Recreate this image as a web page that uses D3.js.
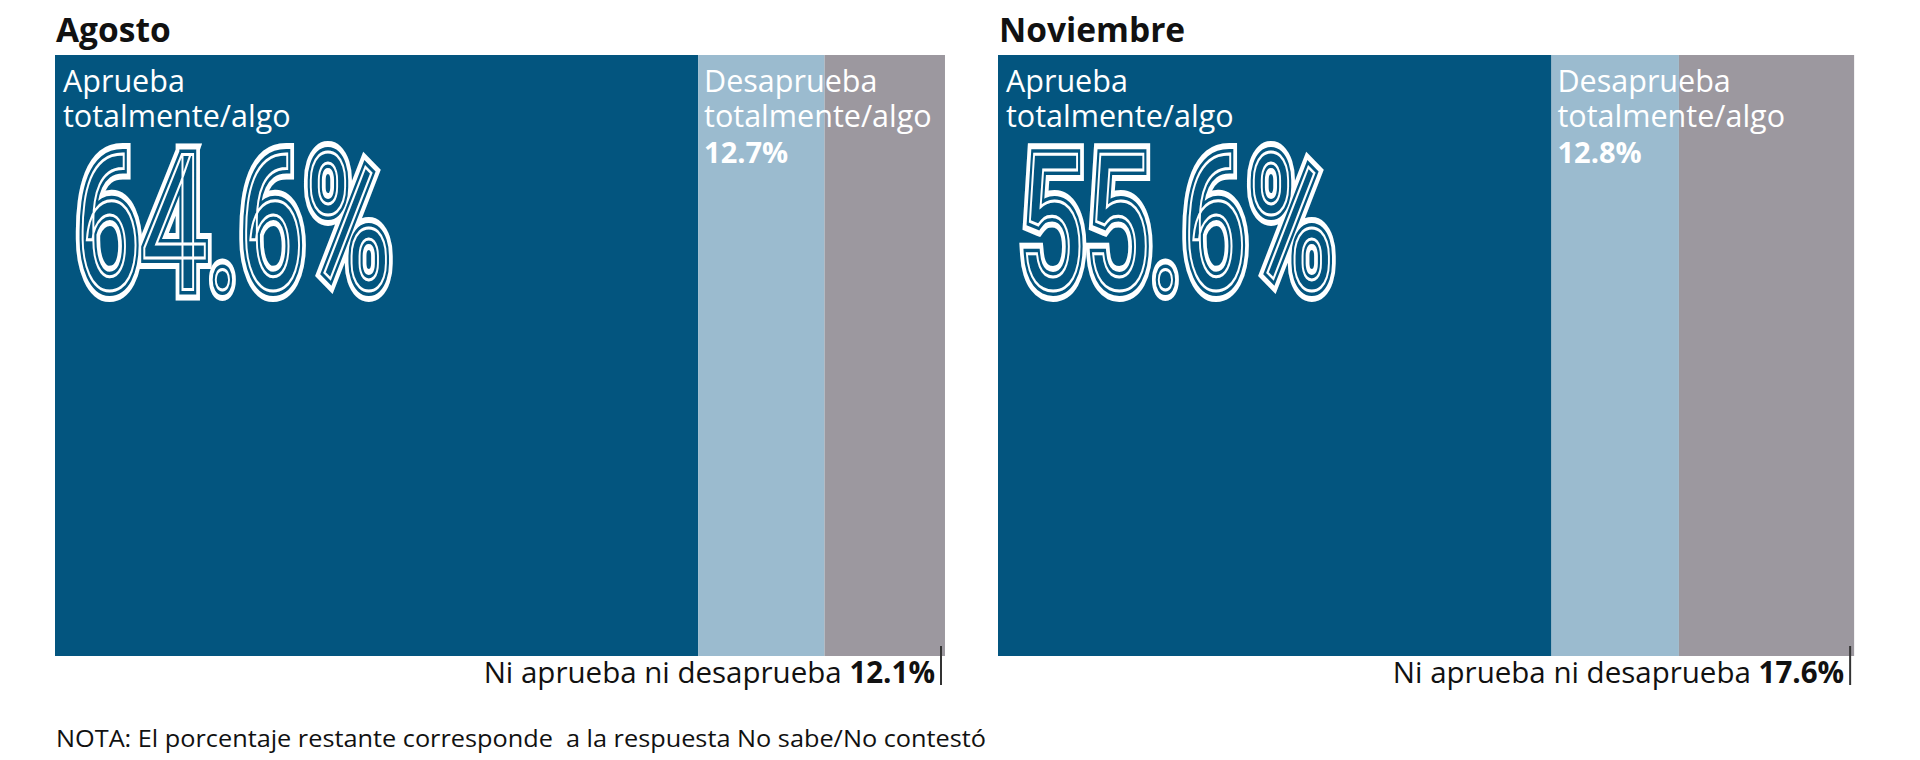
<!DOCTYPE html>
<html>
<head>
<meta charset="utf-8">
<script src="https://cdn.jsdelivr.net/npm/d3@7"></script>
<style>
  html, body { margin: 0; padding: 0; background: #ffffff; }
  svg { display: block; }
</style>
</head>
<body>
<script>
// ---- Data ----
const months = ["Agosto", "Noviembre"];
const aprueba = [64.6, 55.6];
const desaprueba = [12.7, 12.8];
const niNi = [12.1, 17.6];
const categoryLines = [["Aprueba", "totalmente/algo"], ["Desaprueba", "totalmente/algo"]];
const niLabel = "Ni aprueba ni desaprueba ";
const note = "NOTA: El porcentaje restante corresponde\u00A0 a la respuesta No sabe/No contestó";

// ---- Layout ----
const W = 1920, H = 760;
const colors = ["#03557f", "#9bbbcf", "#9c989f"];
const fontBase = "'Open Sans', 'Noto Sans', sans-serif";
const barTop = 55, barBottom = 656;

const svg = d3.select("body").append("svg").attr("width", W).attr("height", H);
const defs = svg.append("defs");

const panel = d3.scaleBand().domain(months).range([55, 55 + 943 * 2]).paddingInner(0);
const x = d3.scaleLinear().domain([0, 100]).range([0, 995.5]);
const fmt = v => d3.format(".1f")(v) + "%";

months.forEach((m, i) => {
  const left = panel(m);
  const vals = [aprueba[i], desaprueba[i], niNi[i]];
  const cum = [0, ...d3.cumsum(vals)];
  const g = svg.append("g");

  // title
  g.append("text").attr("x", left + 1).attr("y", 42)
    .attr("font-family", fontBase).attr("font-weight", 700).attr("font-size", 33.5)
    .attr("fill", "#111").text(m);

  // segments
  g.selectAll("rect.seg").data(vals).join("rect").attr("class", "seg")
    .attr("x", (d, j) => left + x(cum[j]))
    .attr("width", (d, j) => x(cum[j] + d) - x(cum[j]))
    .attr("y", barTop).attr("height", barBottom - barTop)
    .attr("fill", (d, j) => colors[j]);

  // big inline number (one text, drawn three times through <use>)
  const id = "big" + i;
  const bigText = defs.append("text").attr("id", id)
    .attr("font-family", "Roboto, 'Open Sans', sans-serif")
    .attr("font-weight", 400).attr("font-size", 190)
    .text(fmt(vals[0]));
  const natW = bigText.node().getComputedTextLength() || 480;
  const targetW = 316, bigX = left + 20, bigY = 289;
  const sx = targetW / natW;
  const big = g.append("g").attr("transform", `translate(${bigX},${bigY}) scale(${sx},1)`);
  const layers = [
    { fill: "#ffffff", stroke: "#ffffff", sw: 22 },
    { fill: colors[0], stroke: colors[0], sw: 10 },
    { fill: "none", stroke: "#ffffff", sw: 3 }
  ];
  layers.forEach(L => big.append("use").attr("href", "#" + id)
    .attr("fill", L.fill).attr("stroke", L.stroke).attr("stroke-width", L.sw)
    .attr("stroke-linejoin", "miter").attr("vector-effect", "non-scaling-stroke"));

  // category labels (Aprueba / Desaprueba)
  [0, 1].forEach(j => {
    const lx = left + x(cum[j]) + (j === 0 ? 8 : 6);
    const t = g.append("text").attr("font-family", fontBase).attr("font-size", 30.5)
      .attr("fill", "#ffffff");
    categoryLines[j].forEach((line, k) => {
      t.append("tspan").attr("x", lx).attr("y", 92 + k * 35).text(line);
    });
    if (j === 1) {
      g.append("text").attr("x", lx).attr("y", 163)
        .attr("font-family", fontBase).attr("font-weight", 700).attr("font-size", 29)
        .attr("fill", "#ffffff").text(fmt(vals[1]));
    }
  });

  // Ni aprueba ni desaprueba label + tick
  const right = left + x(cum[3]);
  g.append("line").attr("x1", right - 4).attr("x2", right - 4)
    .attr("y1", 646).attr("y2", 685).attr("stroke", "#333").attr("stroke-width", 2);
  const nt = g.append("text").attr("x", right - 10).attr("y", 683)
    .attr("text-anchor", "end").attr("font-family", fontBase).attr("font-size", 29.5)
    .attr("fill", "#111");
  nt.append("tspan").text(niLabel);
  nt.append("tspan").attr("font-weight", 700).text(fmt(vals[2]));
});

svg.append("text").attr("x", 56).attr("y", 747)
  .attr("font-family", fontBase).attr("font-size", 23).attr("fill", "#111")
  .attr("textLength", 930).attr("lengthAdjust", "spacingAndGlyphs")
  .text(note);
</script>
</body>
</html>
